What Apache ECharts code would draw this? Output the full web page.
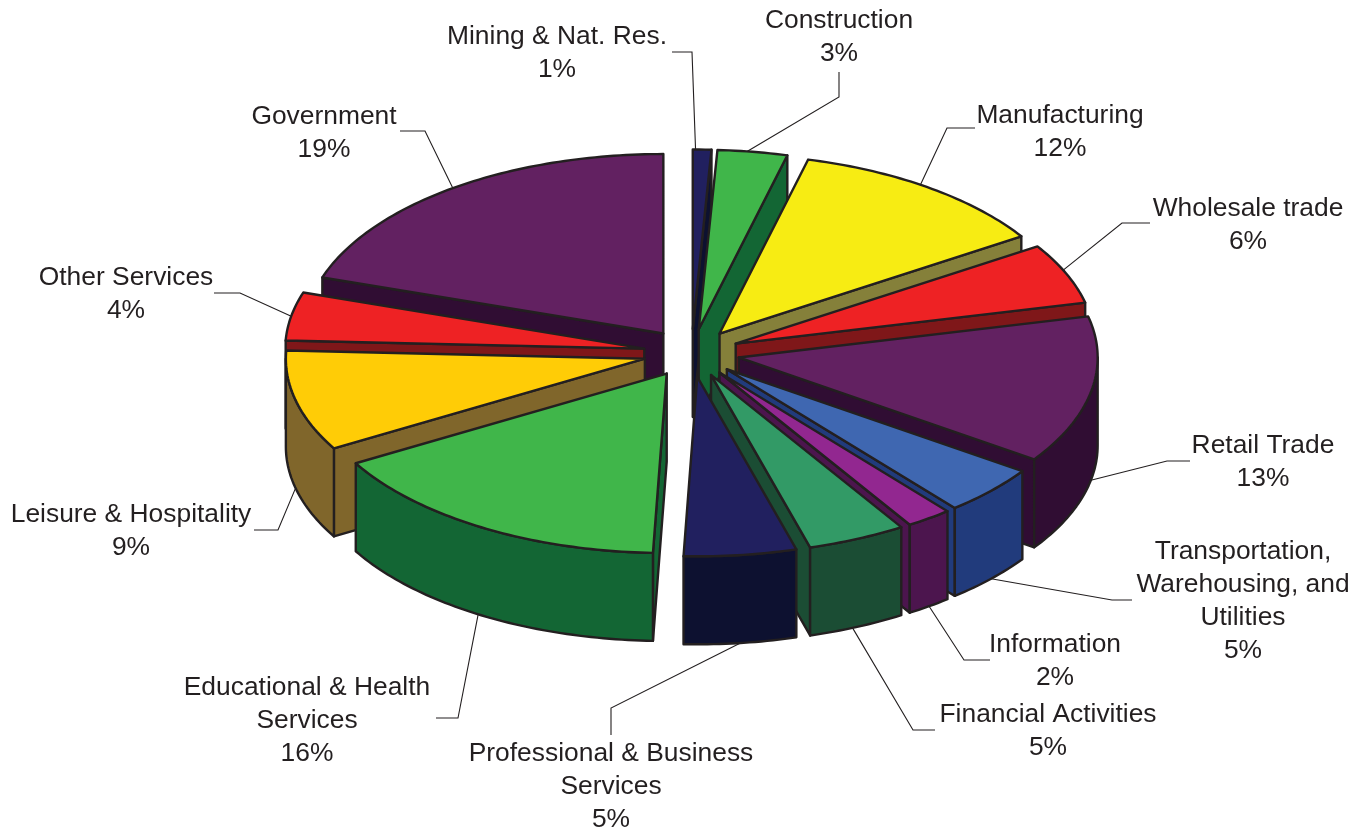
<!DOCTYPE html>
<html>
<head>
<meta charset="utf-8">
<style>html,body{margin:0;padding:0;background:#fff}#c{width:1364px;height:828px}</style>
<script src="https://cdn.jsdelivr.net/npm/echarts@6/dist/echarts.min.js"></script>
</head>
<body>
<div id="c"></div>
<script>
// ---- data ----
var categories = ['Mining & Nat. Res.','Construction','Manufacturing','Wholesale trade','Retail Trade',
  'Transportation,\nWarehousing, and\nUtilities','Information','Financial Activities',
  'Professional & Business\nServices','Educational & Health\nServices','Leisure & Hospitality','Other Services','Government'];
var percentLabels = ['1%','3%','12%','6%','13%','5%','2%','5%','5%','16%','9%','4%','19%'];
var shares = [0.83,3.14,11.92,5.44,13.28,4.44,2.06,4.44,5.06,16.06,9.06,4.33,19.94];
var topColors = ['#21205f','#40b64a','#f7ec13','#ee2224','#622161','#3f67b1','#922790','#329a66','#21205f','#40b64a','#ffcc06','#ee2224','#622161'];
var sideColors = ['#0d1130','#136634','#85803a','#7f1719','#300d33','#213b7c','#4c154e','#1b4d34','#0d1130','#136634','#80662b','#7f1719','#300d33'];

// ---- layout ----
var CX = 691.5, CY = 353, R = 359, TILT = 0.5, DEPTH = 88, EXPLODE = 48;
var INK = '#231f20', FONT = '26.4px "Liberation Sans", Arial, sans-serif', LINE_H = 33;
var labelAnchors = [[557,20.5],[839,4.5],[1060,99.5],[1248,192.5],[1263,429.5],[1243,535.5],[1055,628.5],[1048,698.5],[611,737.5],[307,671.5],[131,498.5],[126,261.5],[324,100.5]];
var leaderElbows = [
  [[672,52],[692,52]],[[839,72],[839,97]],[[975,128],[947,128]],[[1150,223],[1122,223]],
  [[1190,461],[1167,461]],[[1132,600],[1112,600]],[[990,660],[964,660]],[[935,730],[913,730]],
  [[611,735],[611,708]],[[436,718],[458,718]],[[254,530],[278,530]],[[214,293],[240,293]],[[400,131],[425,131]]];
var leaderFractions = [0.15,0.42,0.46,0.44,0.51,0.5,0.5,0.55,0.5,0.51,0.51,0.5,0.5];

var total = shares.reduce(function(a,b){return a+b;},0);
var starts = [], acc = 0;
shares.forEach(function(v){ starts.push(acc/total*360); acc += v; });
function midOf(i){ return starts[i] + shares[i]/total*180; }
var order = shares.map(function(_,i){return i;}).sort(function(a,b){
  return -Math.cos(midOf(a)*Math.PI/180) + Math.cos(midOf(b)*Math.PI/180);
});

function apex(i){
  var m = midOf(i)*Math.PI/180;
  return [CX + EXPLODE*Math.sin(m), CY - EXPLODE*TILT*Math.cos(m)];
}
function rimPoint(i, deg, low){
  var a = apex(i), t = deg*Math.PI/180;
  return [a[0] + R*Math.sin(t), a[1] - R*TILT*Math.cos(t) + (low?DEPTH:0)];
}
function arc(i, from, to, low){
  var pts = [], n = Math.max(2, Math.ceil(to-from));
  for (var k=0;k<=n;k++) pts.push(rimPoint(i, from+(to-from)*k/n, low));
  return pts;
}
function poly(points, fill, z2){
  return {type:'polygon', z2:z2, shape:{points:points},
    style:{fill:fill, stroke:INK, lineWidth:2.4, lineJoin:'round'}};
}
function face(i, deg, fill, z2){
  var a = apex(i), p = rimPoint(i,deg,false), q = rimPoint(i,deg,true);
  return poly([a,p,q,[a[0],a[1]+DEPTH]], fill, z2);
}

function renderItem(params, api){
  var i = api.value(1), share = api.value(0);
  var from = starts[i], to = from + share/total*360;
  var rank = order.indexOf(i), base = 100 + rank*10;
  var side = sideColors[i], children = [];
  var s = Math.sin(from*Math.PI/180), e = Math.sin(to*Math.PI/180);
  if (s < -1e-6) children.push(face(i, from, side, base));
  if (e > 1e-6) children.push(face(i, to, side, base+1));
  var wf = Math.max(from,90), wt = Math.min(to,270);
  if (wt > wf) children.push(poly(arc(i,wf,wt,false).concat(arc(i,wf,wt,true).reverse()), side, base+2));
  children.push(poly([apex(i)].concat(arc(i,from,to,false)), topColors[i], base+3));

  // leader line ends on the slice's rim
  var at = from + (to-from)*leaderFractions[i], front = at > 90 && at < 270;
  var el = leaderElbows[i];
  children.push({type:'polyline', z2:1, shape:{points:[el[0],el[1],rimPoint(i,at,front)]},
    style:{fill:null, stroke:INK, lineWidth:1.1}});
  children.push({type:'text', z2:1000, style:{
    text:categories[i]+'\n'+percentLabels[i], x:labelAnchors[i][0], y:labelAnchors[i][1],
    font:FONT, lineHeight:LINE_H, fill:INK, textAlign:'center', textVerticalAlign:'top'}});
  return {type:'group', children:children};
}

var chart = echarts.init(document.getElementById('c'), null, {renderer:'canvas'});
chart.setOption({
  animation:false,
  backgroundColor:'#ffffff',
  series:[{type:'custom', coordinateSystem:'none', silent:true, renderItem:renderItem,
    data:shares.map(function(v,i){return [v,i];})}]
});
</script>
</body>
</html>
